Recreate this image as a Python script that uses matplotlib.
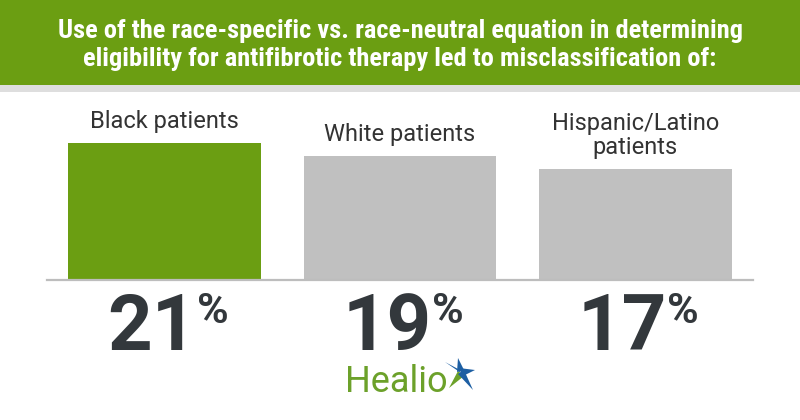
import matplotlib
matplotlib.use("Agg")
import matplotlib.pyplot as plt
from matplotlib.patches import Rectangle, Polygon
from matplotlib import font_manager

# ---- data ----
categories = ["Black patients", "White patients", "Hispanic/Latino\npatients"]
values = [21, 19, 17]
value_labels = ["21", "19", "17"]
bar_colors = ["#6b9e12", "#c0c0c0", "#c0c0c0"]
title_lines = ["Use of the race-specific vs. race-neutral equation in determining",
               "eligibility for antifibrotic therapy led to misclassification of:"]

W, H = 800, 420
fig = plt.figure(figsize=(W / 100, H / 100), dpi=100)
fig.patch.set_facecolor("white")

available = {f.name for f in font_manager.fontManager.ttflist}
head_font = next((f for f in ["Roboto Condensed", "Liberation Sans Narrow",
                              "Open Sans Condensed", "Roboto"] if f in available),
                 "DejaVu Sans")

def fy(px):
    return 1 - px / H

# header band
fig.patches.append(Rectangle((0, fy(85)), 1, 85 / H, transform=fig.transFigure,
                             facecolor="#6b9e12", edgecolor="none", zorder=0))
fig.patches.append(Rectangle((0, fy(92)), 1, 7 / H, transform=fig.transFigure,
                             facecolor="#dedede", edgecolor="none", zorder=0))
head_texts = []
for line, base in zip(title_lines, [38, 66]):
    t = fig.text(0.5, fy(base), line, ha="center", va="baseline", color="white",
                 fontsize=16, fontweight="bold", family=head_font)
    head_texts.append(t)
renderer = fig.canvas.get_renderer()
w0 = head_texts[0].get_window_extent(renderer).width
for t in head_texts:
    t.set_fontsize(16 * 683 / w0)

# bar axes
left_px, right_px, base_px, top_px = 47, 753, 280, 92
ax = fig.add_axes([left_px / W, fy(base_px), (right_px - left_px) / W,
                   (base_px - top_px) / H])
scale = 6.52  # px per unit
ax.set_ylim(0, (base_px - top_px) / scale)
ax.set_xlim(-0.5, 2.5)
x = list(range(len(values)))
ax.bar(x, values, width=0.82, color=bar_colors, zorder=2)
for s in ["top", "left", "right"]:
    ax.spines[s].set_visible(False)
ax.spines["bottom"].set_color("#bdbdbd")
ax.spines["bottom"].set_linewidth(1.6)
ax.set_xticks([])
ax.set_yticks([])
ax.patch.set_alpha(0)

for i, (cat, v, lab) in enumerate(zip(categories, values, value_labels)):
    ax.annotate(cat, xy=(i, v), xytext=(0, 7.5), textcoords="offset points",
                ha="center", va="bottom", fontsize=17, color="#333333",
                family="Roboto", linespacing=1.05, annotation_clip=False)
    ax.annotate(lab, xy=(i, 0), xytext=(-13, -70), textcoords="offset pixels",
                ha="center", va="baseline", fontsize=56, fontweight="bold",
                color="#33383c", family="Roboto", annotation_clip=False)
    ax.annotate("%", xy=(i, 0), xytext=(32, -43), textcoords="offset pixels",
                ha="left", va="baseline", fontsize=31, fontweight="bold",
                color="#33383c", family="Roboto", annotation_clip=False)

# Healio logo
fig.text(345 / W, fy(392), "Healio", ha="left", va="baseline", fontsize=26,
         color="#6ca12a", family="Roboto")
cx, cy = 461, 373
def P(pts, color):
    fig.patches.append(Polygon([(px / W, fy(py)) for px, py in pts], closed=True,
                               transform=fig.transFigure, facecolor=color,
                               edgecolor="none"))
# green wedge (lower-left)
P([(cx - 3, cy - 2), (cx - 12, cy + 15), (cx + 3, cy + 3)], "#6ca12a")
# blue star points
P([(cx - 3, cy - 4), (cx - 16, cy - 11), (cx + 3, cy + 2)], "#1d5fa3")
P([(cx - 4, cy - 1), (cx - 3, cy - 15), (cx + 3, cy - 3)], "#1d5fa3")
P([(cx - 2, cy - 5), (cx + 14, cy - 3), (cx + 2, cy + 3)], "#1d5fa3")
P([(cx - 3, cy + 1), (cx + 12, cy + 17), (cx + 3, cy - 3)], "#1d5fa3")

fig.savefig("out.png", dpi=100)
